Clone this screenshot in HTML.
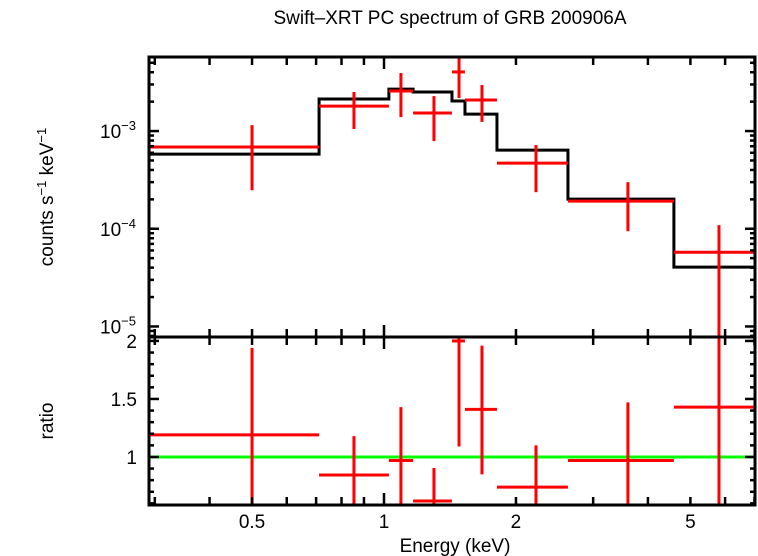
<!DOCTYPE html>
<html><head><meta charset="utf-8">
<style>
html,body{margin:0;padding:0;background:#fff;}
svg{display:block;font-family:"Liberation Sans",sans-serif;}
</style></head>
<body>
<svg id="chart" width="758" height="556" viewBox="0 0 758 556" xmlns="http://www.w3.org/2000/svg">
<text x="450" y="24" font-size="19" text-anchor="middle">Swift–XRT PC spectrum of GRB 200906A</text>
<text transform="translate(53,197) rotate(-90)" font-size="19" text-anchor="middle">counts s<tspan font-size="13" dy="-7">−1</tspan><tspan dy="7"> keV</tspan><tspan font-size="13" dy="-7">−1</tspan></text>
<text transform="translate(53,421) rotate(-90)" font-size="19" text-anchor="middle">ratio</text>
<text x="455" y="552" font-size="19" text-anchor="middle">Energy (keV)</text>
<g id="marks"></g>
</svg>
<script>
const binLo = [0.291, 0.711, 1.026, 1.165, 1.429, 1.530, 1.810, 2.628, 4.585];
const binHi = [0.711, 1.026, 1.165, 1.429, 1.530, 1.810, 2.628, 4.585, 7.02];
const binCenter = [0.5, 0.854, 1.093, 1.300, 1.483, 1.673, 2.222, 3.601, 5.81];
const dataRate = [6.86e-4, 1.80e-3, 2.57e-3, 1.53e-3, 4.03e-3, 2.08e-3, 4.70e-4, 1.92e-4, 5.75e-5];
const rateErrHi = [1.15e-3, 2.51e-3, 3.93e-3, 2.28e-3, 6.0e-3, 2.96e-3, 7.19e-4, 3.00e-4, 1.09e-4];
const rateErrLo = [2.48e-4, 1.05e-3, 1.39e-3, 7.90e-4, 2.18e-3, 1.24e-3, 2.37e-4, 9.44e-5, 1e-6];
const modelRate = [5.81e-4, 2.13e-3, 2.69e-3, 2.51e-3, 2.03e-3, 1.49e-3, 6.38e-4, 2.01e-4, 4.05e-5];
const ratio = [1.19, 0.845, 0.97, 0.62, 2.0, 1.41, 0.74, 0.97, 1.43];
const ratioErrHi = [1.94, 1.18, 1.43, 0.905, 2.1, 1.96, 1.10, 1.47, 2.1];
const ratioErrLo = [0.4, 0.4, 0.4, 0.4, 1.09, 0.85, 0.4, 0.4, 0.4];
const xTickLabels = ["0.5", "1", "2", "5"];
const xTickValues = [0.5, 1, 2, 5];
const yTopTickLabels = ["−3", "−4", "−5"];
const yTopTickValues = [1e-3, 1e-4, 1e-5];
const yBotTickLabels = ["2", "1.5", "1"];
const yBotTickValues = [2, 1.5, 1];

const X0=149, X1=755, XMIN=0.291, XMAX=7.02;
const T0=57, T1=337, YTMIN=7.8e-6, YTMAX=5.73e-3;
const B0=337, B1=505, YBMIN=0.586, YBMAX=2.034;
const xs = v => X0 + (Math.log10(v)-Math.log10(XMIN))/(Math.log10(XMAX)-Math.log10(XMIN))*(X1-X0);
const yt = v => T1 - (Math.log10(v)-Math.log10(YTMIN))/(Math.log10(YTMAX)-Math.log10(YTMIN))*(T1-T0);
const yb = v => B1 - (v-YBMIN)/(YBMAX-YBMIN)*(B1-B0);
const clampT = y => Math.max(T0, Math.min(T1, y));
const clampB = y => Math.max(B0, Math.min(B1, y));

const NS="http://www.w3.org/2000/svg";
const g=document.getElementById('marks');
function line(x1,y1,x2,y2,col,w,name){
  const l=document.createElementNS(NS,'line');
  l.setAttribute('x1',x1);l.setAttribute('y1',y1);l.setAttribute('x2',x2);l.setAttribute('y2',y2);
  l.setAttribute('stroke',col);l.setAttribute('stroke-width',w);
  
  
  g.appendChild(l);return l;
}
function text(x,y,s,anchor,name){
  const t=document.createElementNS(NS,'text');
  t.setAttribute('x',x);t.setAttribute('y',y);t.setAttribute('font-size','19');t.setAttribute('text-anchor',anchor);
  t.innerHTML=s;
  
  
  g.appendChild(t);return t;
}

let d="";
for(let i=0;i<binLo.length;i++){
  const y=yt(modelRate[i]);
  d += (i===0?"M":"L")+xs(binLo[i])+","+y+" L"+xs(binHi[i])+","+y+" ";
}
const mp=document.createElementNS(NS,'path');
mp.setAttribute('d',d);mp.setAttribute('fill','none');mp.setAttribute('stroke','#000');mp.setAttribute('stroke-width','3');


g.appendChild(mp);

for(let i=0;i<binLo.length;i++){
  const y=yt(dataRate[i]), xc=xs(binCenter[i]);
  line(xs(binLo[i]),y,Math.min(X1,xs(binHi[i])),y,'#f00',3,'data-xerr-'+i);
  line(xc,clampT(yt(rateErrHi[i])),xc,clampT(yt(rateErrLo[i])),'#f00',3,'data-yerr-'+i);
}
line(X0,yb(1),X1,yb(1),'#0f0',3,'unity-line');
for(let i=0;i<binLo.length;i++){
  const y=yb(ratio[i]), xc=xs(binCenter[i]);
  if(y>=B0 && y<=B1) line(xs(binLo[i]),y,Math.min(X1,xs(binHi[i])),y,'#f00',3,'ratio-xerr-'+i);
  line(xc,clampB(yb(ratioErrHi[i])),xc,clampB(yb(ratioErrLo[i])),'#f00',3,'ratio-yerr-'+i);
}

const frame=(y0,y1,name)=>{
  const r=document.createElementNS(NS,'rect');
  r.setAttribute('x',X0);r.setAttribute('y',y0);r.setAttribute('width',X1-X0);r.setAttribute('height',y1-y0);
  r.setAttribute('fill','none');r.setAttribute('stroke','#000');r.setAttribute('stroke-width','3');
  
  
  g.appendChild(r);
};
frame(T0,T1,'top-panel-frame');frame(B0,B1,'bottom-panel-frame');

const xMinor=[0.3,0.4,0.5,0.6,0.7,0.8,0.9,1,2,3,4,5,6,7];
xMinor.forEach(v=>{
  const x=xs(v); if(x<X0||x>X1) return;
  const L=(v===1)?12:8;
  [[T0,1],[T1,-1],[B0,1],[B1,-1]].forEach(([y,s])=>line(x,y,x,y+s*L,'#000',2.5,'x-tick'));
});
xTickValues.forEach((v,i)=>text(xs(v),528,xTickLabels[i],'middle','x-tick-label'));

for(let e=-6;e<=-2;e++){
  for(let m=1;m<=9;m++){
    const v=m*Math.pow(10,e), y=yt(v);
    if(y<T0||y>T1) continue;
    const L=(m===1)?10:5;
    line(X0,y,X0+L,y,'#000',2.5,'y-tick-top');
    line(X1,y,X1-L,y,'#000',2.5,'y-tick-top');
  }
}
yTopTickValues.forEach((v,i)=>{
  text(136,yt(v)+7,'10<tspan font-size="13" dy="-8">'+yTopTickLabels[i]+'</tspan>','end','y-tick-label-top');
});
for(let k=6;k<=20;k++){
  const v=k/10, y=yb(v);
  if(y<B0||y>B1) continue;
  const L=(k%5===0)?10:5;
  line(X0,y,X0+L,y,'#000',2.5,'y-tick-bottom');
  line(X1,y,X1-L,y,'#000',2.5,'y-tick-bottom');
}
yBotTickValues.forEach((v,i)=>text(137,yb(v)+7,yBotTickLabels[i],'end','y-tick-label-bottom'));
</script>
</body></html>
